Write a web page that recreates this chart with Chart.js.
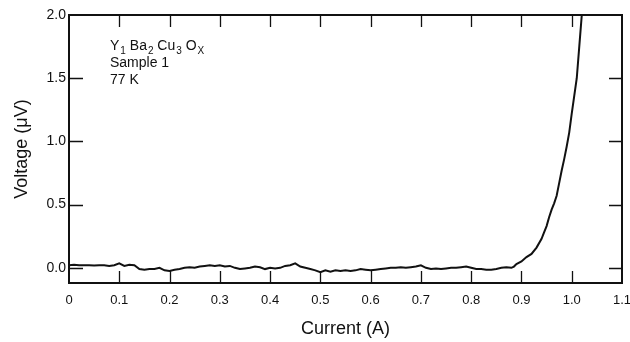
<!DOCTYPE html>
<html>
<head>
<meta charset="utf-8">
<script src="https://cdn.jsdelivr.net/npm/chart.js@4"></script>
<style>
  html, body { margin: 0; padding: 0; background: #fff; }
  #wrap { width: 630px; height: 342px; position: relative; }
</style>
</head>
<body>
<div id="wrap"><canvas id="c" width="630" height="342"></canvas></div>
<script>
// Current (A)
const currents = [
  0.00,0.01,0.02,0.03,0.04,0.05,0.06,0.07,0.08,0.09,
  0.10,0.11,0.12,0.13,0.14,0.15,0.16,0.17,0.18,0.19,
  0.20,0.21,0.22,0.23,0.24,0.25,0.26,0.27,0.28,0.29,
  0.30,0.31,0.32,0.33,0.34,0.35,0.36,0.37,0.38,0.39,
  0.40,0.41,0.42,0.43,0.44,0.45,0.46,0.47,0.48,0.49,
  0.50,0.51,0.52,0.53,0.54,0.55,0.56,0.57,0.58,0.59,
  0.60,0.61,0.62,0.63,0.64,0.65,0.66,0.67,0.68,0.69,
  0.70,0.71,0.72,0.73,0.74,0.75,0.76,0.77,0.78,0.79,
  0.80,0.81,0.82,0.83,0.84,0.85,0.86,0.87,0.88,0.885,
  0.89,0.90,0.91,0.92,0.93,0.94,0.945,0.95,0.955,0.96,
  0.965,0.97,0.975,0.98,0.985,0.99,0.995,1.00,1.005,1.01,
  1.015,1.02
];
// Voltage (µV)
const voltages = [
  0.02,0.025,0.02,0.02,0.02,0.018,0.02,0.02,0.015,0.02,
  0.035,0.015,0.025,0.02,-0.01,-0.015,-0.01,-0.01,0.0,-0.02,
  -0.025,-0.015,-0.01,0.0,0.005,0.0,0.01,0.015,0.02,0.015,
  0.02,0.01,0.015,0.0,-0.01,-0.005,0.0,0.01,0.005,-0.01,
  0.0,-0.005,0.0,0.015,0.02,0.035,0.01,0.0,-0.01,-0.02,
  -0.035,-0.02,-0.03,-0.02,-0.025,-0.02,-0.025,-0.02,-0.01,-0.015,
  -0.02,-0.015,-0.01,-0.005,0.0,0.0,0.005,0.0,0.005,0.01,
  0.02,0.0,-0.01,-0.005,-0.01,-0.005,0.0,0.0,0.005,0.01,
  0.0,-0.01,-0.01,-0.015,-0.015,-0.01,0.0,0.005,0.0,0.01,
  0.03,0.05,0.085,0.11,0.16,0.23,0.28,0.33,0.40,0.46,
  0.51,0.57,0.67,0.77,0.86,0.96,1.07,1.22,1.36,1.50,
  1.75,2.00
];
const xTicks = [0,0.1,0.2,0.3,0.4,0.5,0.6,0.7,0.8,0.9,1.0,1.1];
const xTickLabels = ["0","0.1","0.2","0.3","0.4","0.5","0.6","0.7","0.8","0.9","1.0","1.1"];
const yTicks = [0,0.5,1.0,1.5,2.0];
const yTickLabels = ["0.0","0.5","1.0","1.5","2.0"];
const annotationLines = [
  [["Y","1"],[" Ba","2"],[" Cu","3"],[" O","X"]],
  [["Sample 1",""]],
  [["77 K",""]]
];

const FONT = "'Liberation Sans', Arial, Helvetica, sans-serif";

const points = currents.map((x, i) => ({ x: x, y: voltages[i] }));

const framePlugin = {
  id: 'frame',
  afterDatasetsDraw(chart) {
    const ctx = chart.ctx;
    const a = chart.chartArea;
    const xs = chart.scales.x, ys = chart.scales.y;
    ctx.save();
    ctx.strokeStyle = '#111';
    ctx.lineWidth = 2;
    ctx.strokeRect(a.left, a.top, a.right - a.left, a.bottom - a.top);
    ctx.lineWidth = 1.3;
    ctx.beginPath();
    xTicks.forEach(v => {
      if (v <= 0 || v >= 1.1) return;
      const px = Math.round(xs.getPixelForValue(v)) + 0.5;
      ctx.moveTo(px, a.bottom); ctx.lineTo(px, a.bottom - 12);
      ctx.moveTo(px, a.top); ctx.lineTo(px, a.top + 12);
    });
    yTicks.forEach(v => {
      if (v >= 2.0) return;
      const py = Math.round(ys.getPixelForValue(v)) + 0.5;
      ctx.moveTo(a.left, py); ctx.lineTo(a.left + 14, py);
      ctx.moveTo(a.right, py); ctx.lineTo(a.right - 13, py);
    });
    ctx.stroke();

    // annotation text
    ctx.fillStyle = '#111';
    ctx.textBaseline = 'alphabetic';
    let y0 = 50;
    annotationLines.forEach((line, li) => {
      let x = 110;
      const yb = y0 + li * 17;
      line.forEach(([main, sub]) => {
        ctx.font = '14px ' + FONT;
        ctx.fillText(main, x, yb);
        x += ctx.measureText(main).width + 1;
        if (sub) {
          ctx.font = '10px ' + FONT;
          ctx.fillText(sub, x, yb + 4);
          x += ctx.measureText(sub).width;
        }
      });
    });
    ctx.restore();
  }
};

new Chart(document.getElementById('c'), {
  type: 'scatter',
  data: {
    datasets: [{
      data: points,
      showLine: true,
      borderColor: '#111',
      backgroundColor: '#111',
      borderWidth: 2,
      pointRadius: 0,
      tension: 0
    }]
  },
  options: {
    responsive: false,
    animation: false,
    devicePixelRatio: 1,
    layout: { padding: { left: 0, right: 0, top: 15, bottom: 0 } },
    plugins: { legend: { display: false }, tooltip: { enabled: false } },
    scales: {
      x: {
        type: 'linear',
        min: 0, max: 1.1,
        afterBuildTicks: s => { s.ticks = xTicks.map(v => ({ value: v })); },
        afterFit: s => { s.height = 59; s.paddingRight = 8; s.paddingLeft = 0; },
        grid: { display: false, drawTicks: false },
        border: { display: false },
        ticks: {
          padding: 10,
          color: '#111',
          font: { family: FONT, size: 13 },
          callback: (v, i) => xTickLabels[i]
        },
        title: {
          display: true,
          text: 'Current (A)',
          color: '#111',
          font: { family: FONT, size: 18 },
          padding: { top: 8, bottom: 2 }
        }
      },
      y: {
        type: 'linear',
        min: -0.12, max: 2.0,
        afterBuildTicks: s => { s.ticks = yTicks.map(v => ({ value: v })); },
        afterFit: s => { s.width = 69; },
        grid: { display: false, drawTicks: false },
        border: { display: false },
        ticks: {
          padding: 3,
          color: '#111',
          font: { family: FONT, size: 14 },
          callback: (v, i) => yTickLabels[i]
        },
        title: {
          display: true,
          text: 'Voltage (μV)',
          color: '#111',
          font: { family: FONT, size: 18 },
          padding: { top: 11, bottom: 4 }
        }
      }
    }
  },
  plugins: [framePlugin]
});
</script>
</body>
</html>
